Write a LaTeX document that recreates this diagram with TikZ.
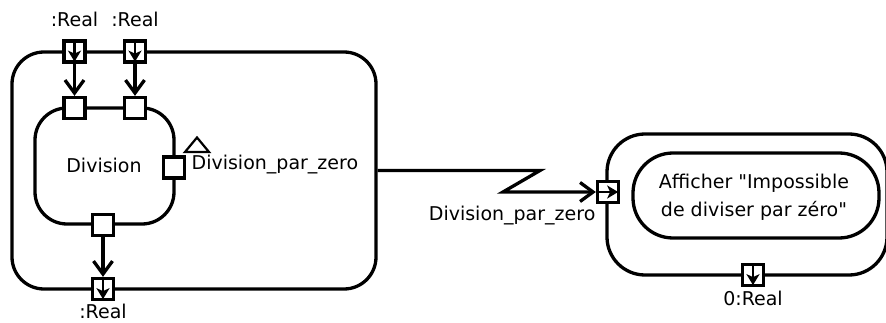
\documentclass[tikz,border=0pt]{standalone}
\usepackage{fontspec}
\setmainfont{DejaVu Sans}[Ligatures=TeXOff]
\usetikzlibrary{arrows.meta}
\begin{document}
\begin{tikzpicture}[x=1pt,y=-1pt, line width=3.3pt,
  pinbox/.style={draw, fill=white, minimum size=21pt, inner sep=0pt, line width=3.3pt},
  actbox/.style={draw, inner sep=0pt, line width=3.3pt},
  flow/.style={-{Straight Barb[length=13pt,width=19pt,line width=3.3pt]}},
  pinarrow/.style={line width=2.8pt, -{Stealth[length=11pt,width=13pt,inset=3pt]}, shorten >=2pt, shorten <=1.5pt},
  lbl/.style={font=\fontsize{19}{28}\selectfont, inner sep=0pt}
]
\useasboundingbox (0,0) rectangle (886,323);

% activity boxes
\node[actbox, rounded corners=32pt, minimum width=364pt, minimum height=237pt] (outer) at (194,170.5) {};
\node[actbox, rounded corners=32pt, minimum width=139pt, minimum height=116pt] (div) at (104.5,166) {};
\node[actbox, rounded corners=38pt, minimum width=280pt, minimum height=141pt] (hand) at (747,204.5) {};
\node[actbox, rounded corners=40pt, minimum width=246pt, minimum height=85pt] (aff) at (756,195.5) {};

% texts
\node[lbl] (tdiv) at (104,165) {Division};
\node[lbl, align=center] (taff) at (754,197) {Afficher "Impossible\\de diviser par zéro"};
\node[lbl, anchor=base] (l1) at (74.5,27) {:Real};
\node[lbl, anchor=base] (l2) at (135,27) {:Real};
\node[lbl, anchor=base] (l3) at (103,318) {:Real};
\node[lbl, anchor=base] (l4) at (753,305) {0:Real};
\node[lbl, anchor=base west] (l5) at (190,170) {Division\_par\_zero};
\node[lbl, anchor=base east] (l6) at (597,221) {Division\_par\_zero};

% pins
\node[pinbox] (pA) at (74.5,51.5) {};
\node[pinbox] (pB) at (135,51.5) {};
\node[pinbox] (iA) at (74.5,108) {};
\node[pinbox] (iB) at (135,108) {};
\node[pinbox] (iE) at (174,167.5) {};
\node[pinbox] (iO) at (103,225) {};
\node[pinbox] (oO) at (103,289) {};
\node[pinbox] (hI) at (608,192) {};
\node[pinbox] (hO) at (753,275) {};

% exception triangle
\draw[line width=2.2pt, line join=miter] (197,137.5) -- (209,152) -- (185,152) -- cycle;

% connectors
\draw[flow] (pA.south) -- (iA.north);
\draw[flow] (pB.south) -- (iB.north);
\draw[flow] (iO.south) -- (oO.north);
\coordinate (z1) at (540,170.5);
\coordinate (z2) at (503,192);
\draw[flow, line join=miter] (outer.east) -- (z1) -- (z2) -- (hI.west);

% arrows inside pins
\draw[pinarrow] (pA.north) -- (pA.south);
\draw[pinarrow] (pB.north) -- (pB.south);
\draw[pinarrow] (oO.north) -- (oO.south);
\draw[pinarrow] (hO.north) -- (hO.south);
\draw[pinarrow] (hI.west) -- (hI.east);
\end{tikzpicture}
\end{document}
